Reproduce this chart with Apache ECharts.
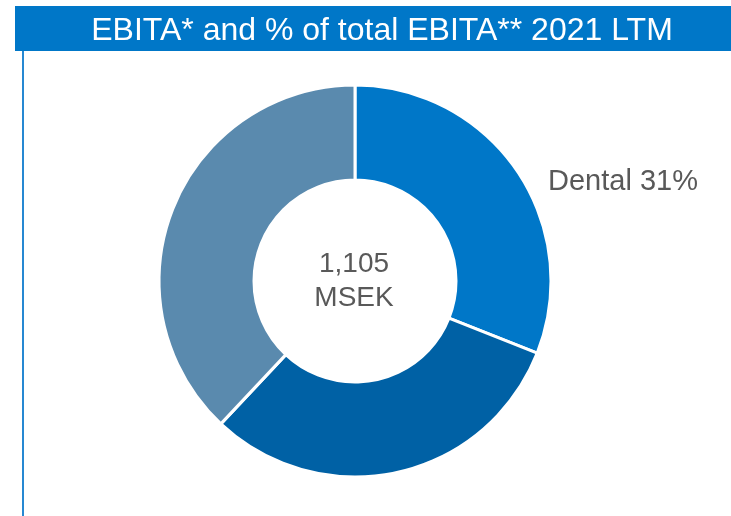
<!DOCTYPE html>
<html>
<head>
<meta charset="utf-8">
<script src="https://cdn.jsdelivr.net/npm/echarts@6/dist/echarts.min.js"></script>
<style>
  html, body { margin: 0; padding: 0; background: #fff; }
  #chart { width: 731px; height: 516px; }
</style>
</head>
<body>
<div id="chart"></div>
<script>
// segments, clockwise from 12 o'clock
var segments = ['Dental', 'Segment B', 'Segment C'];
var shares = [31, 31, 38];
var colors = ['#0077c8', '#0061a5', '#5a8aae'];
var totalText = '1,105\nMSEK';
var titleText = 'EBITA* and % of total EBITA** 2021 LTM';

var chart = echarts.init(document.getElementById('chart'));

var pieData = segments.map(function (name, i) {
    return {
        name: name,
        value: shares[i],
        itemStyle: {color: colors[i]},
        label: {show: i === 0}
    };
});

var option = {
    animation: false,
    title: {
        text: titleText,
        left: 377,
        top: 10,
        textAlign: 'center',
        textStyle: {
            color: '#fff',
            fontFamily: 'Liberation Sans, Arial, sans-serif',
            fontSize: 32,
            fontWeight: 'normal'
        }
    },
    graphic: [
        {
            type: 'rect',
            z: -1,
            shape: {x: 15, y: 6, width: 716, height: 45},
            style: {fill: '#0077c8'}
        },
        {
            type: 'line',
            shape: {x1: 23, y1: 51, x2: 23, y2: 516},
            style: {stroke: '#2688d2', lineWidth: 2}
        },
        {
            type: 'text',
            z: 10,
            style: {
                text: totalText,
                x: 354,
                y: 281,
                align: 'center',
                verticalAlign: 'middle',
                fill: '#595959',
                fontFamily: 'Liberation Sans, Arial, sans-serif',
                fontSize: 28,
                lineHeight: 34
            }
        }
    ],
    series: [{
        type: 'pie',
        center: [355, 281],
        radius: [101, 196],
        startAngle: 90,
        clockwise: true,
        itemStyle: {borderColor: '#fff', borderWidth: 3},
        label: {
            position: 'outside',
            formatter: function (p) { return p.name + ' ' + p.value + '%'; },
            color: '#595959',
            fontSize: 29,
            fontFamily: 'Liberation Sans, Arial, sans-serif'
        },
        labelLine: {show: false},
        labelLayout: function (params) {
            if (params.dataIndex === 0) {
                return {x: 548, y: 182, align: 'left', verticalAlign: 'middle'};
            }
        },
        emphasis: {disabled: true},
        data: pieData
    }]
};

chart.setOption(option);
</script>
</body>
</html>
